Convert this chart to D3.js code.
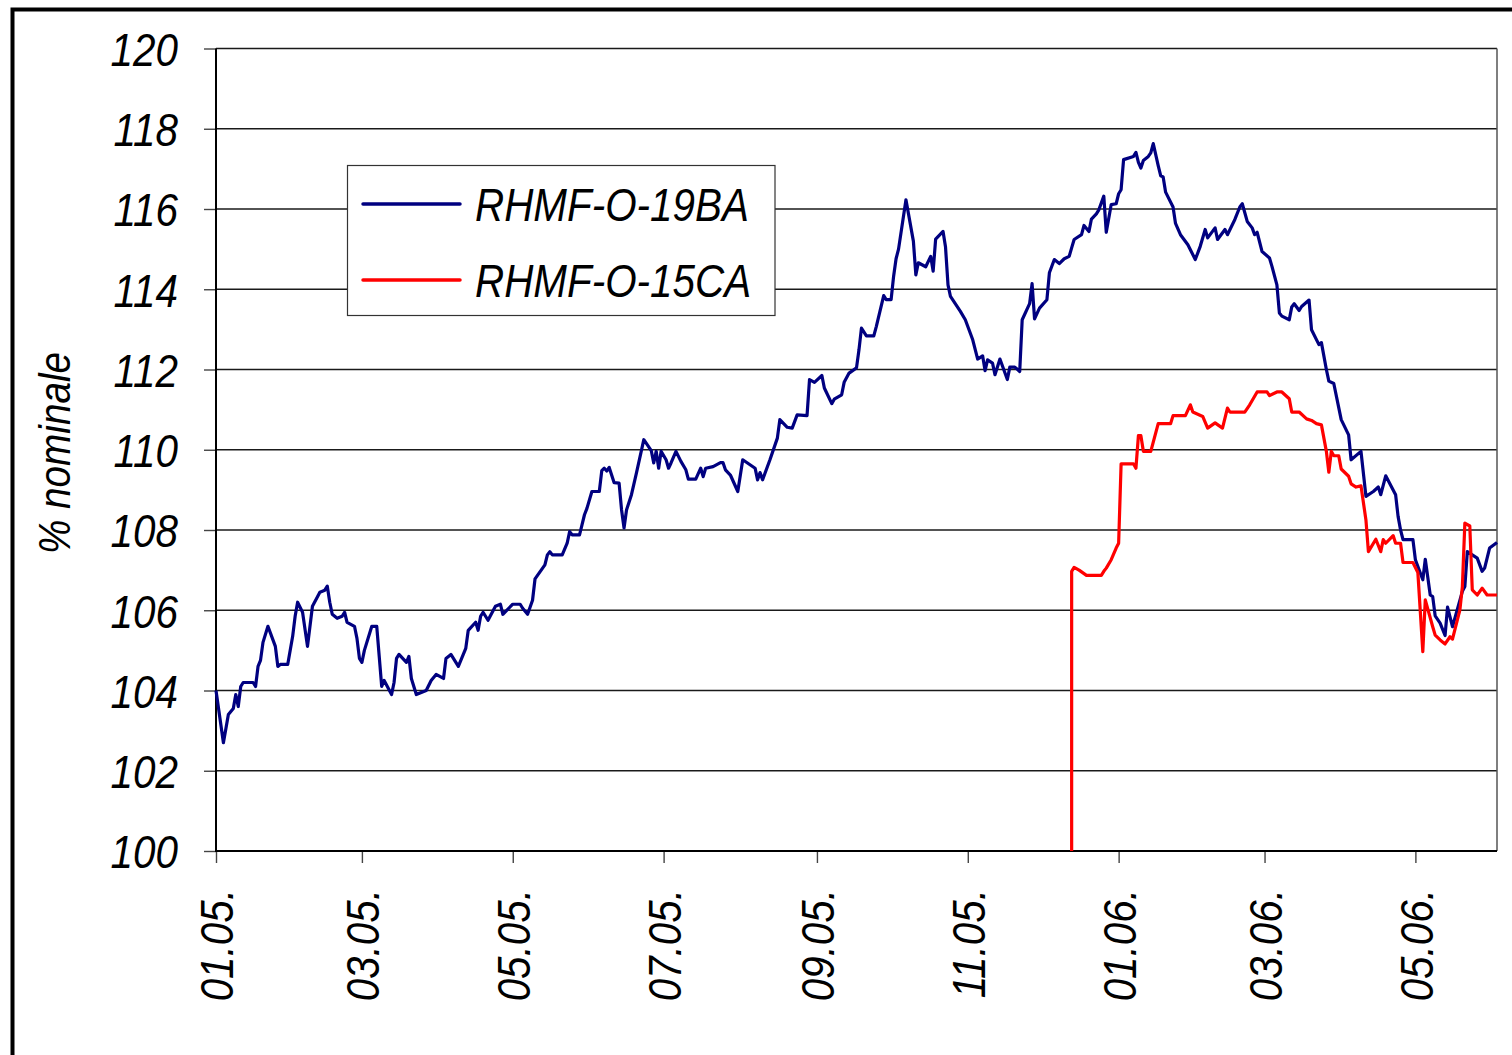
<!DOCTYPE html>
<html><head><meta charset="utf-8">
<script src="https://cdn.jsdelivr.net/npm/d3@7"></script>
<style>body{margin:0;background:#fff}svg{display:block}</style>
</head><body>
<svg id="c" width="1512" height="1055"></svg>
<script>
const seriesNames = ["RHMF-O-19BA", "RHMF-O-15CA"];
const seriesColors = ["#000080", "#ff0000"];
const yTicks = [100, 102, 104, 106, 108, 110, 112, 114, 116, 118, 120];
const xTickDates = ["2005-01-01","2005-03-01","2005-05-01","2005-07-01","2005-09-01","2005-11-01","2006-01-01","2006-03-01","2006-05-01"];
const xDomain = ["2005-01-01", "2006-06-03"];
const yTitle = "% nominale";

const blueDates = [
"2005-01-01","2005-01-04","2005-01-06","2005-01-08","2005-01-09","2005-01-10","2005-01-11","2005-01-12","2005-01-16","2005-01-17",
"2005-01-18","2005-01-19","2005-01-20","2005-01-22","2005-01-25","2005-01-26","2005-01-27","2005-01-30","2005-02-01","2005-02-02",
"2005-02-03","2005-02-05","2005-02-07","2005-02-09","2005-02-12","2005-02-14","2005-02-15","2005-02-16","2005-02-17","2005-02-19",
"2005-02-21","2005-02-22","2005-02-23","2005-02-26","2005-02-27","2005-02-28","2005-03-01","2005-03-02","2005-03-05","2005-03-07",
"2005-03-08","2005-03-09","2005-03-10","2005-03-13","2005-03-14","2005-03-15","2005-03-16","2005-03-19","2005-03-20","2005-03-21",
"2005-03-23","2005-03-27","2005-03-29","2005-03-31","2005-04-03","2005-04-04","2005-04-06","2005-04-09","2005-04-12","2005-04-13",
"2005-04-16","2005-04-17","2005-04-18","2005-04-19","2005-04-21","2005-04-24","2005-04-26","2005-04-27","2005-05-01","2005-05-04",
"2005-05-05","2005-05-07","2005-05-09","2005-05-10","2005-05-14","2005-05-15","2005-05-16","2005-05-17","2005-05-21","2005-05-23",
"2005-05-24","2005-05-25","2005-05-28","2005-05-29","2005-05-30","2005-05-31","2005-06-02","2005-06-05","2005-06-06","2005-06-07",
"2005-06-08","2005-06-09","2005-06-11","2005-06-13","2005-06-14","2005-06-15","2005-06-16","2005-06-18","2005-06-20","2005-06-23",
"2005-06-26","2005-06-27","2005-06-28","2005-06-29","2005-06-30","2005-07-02","2005-07-03","2005-07-04","2005-07-06","2005-07-08",
"2005-07-10","2005-07-11","2005-07-14","2005-07-16","2005-07-17","2005-07-18","2005-07-21","2005-07-24","2005-07-25","2005-07-26",
"2005-07-28","2005-07-31","2005-08-02","2005-08-07","2005-08-08","2005-08-09","2005-08-10","2005-08-13","2005-08-16","2005-08-17",
"2005-08-20","2005-08-22","2005-08-24","2005-08-28","2005-08-29","2005-08-31","2005-09-03","2005-09-04","2005-09-07","2005-09-08",
"2005-09-11","2005-09-12","2005-09-14","2005-09-17","2005-09-18","2005-09-19","2005-09-21","2005-09-24","2005-09-25","2005-09-28",
"2005-09-29","2005-10-01","2005-10-02","2005-10-03","2005-10-04","2005-10-07","2005-10-10","2005-10-11","2005-10-12","2005-10-15",
"2005-10-17","2005-10-18","2005-10-19","2005-10-22","2005-10-23","2005-10-24","2005-10-25","2005-10-29","2005-10-31","2005-11-03",
"2005-11-05","2005-11-07","2005-11-08","2005-11-09","2005-11-11","2005-11-12","2005-11-14","2005-11-17","2005-11-18","2005-11-20",
"2005-11-22","2005-11-23","2005-11-26","2005-11-27","2005-11-28","2005-11-30","2005-12-03","2005-12-04","2005-12-06","2005-12-08",
"2005-12-10","2005-12-12","2005-12-13","2005-12-14","2005-12-17","2005-12-18","2005-12-20","2005-12-21","2005-12-23","2005-12-24",
"2005-12-26","2005-12-27","2005-12-29","2005-12-31","2006-01-01","2006-01-02","2006-01-03","2006-01-07","2006-01-08","2006-01-09",
"2006-01-10","2006-01-11","2006-01-13","2006-01-14","2006-01-15","2006-01-17","2006-01-18","2006-01-19","2006-01-20","2006-01-23",
"2006-01-24","2006-01-26","2006-01-29","2006-02-01","2006-02-03","2006-02-05","2006-02-06","2006-02-09","2006-02-10","2006-02-13",
"2006-02-14","2006-02-17","2006-02-19","2006-02-20","2006-02-22","2006-02-24","2006-02-25","2006-02-26","2006-02-28","2006-03-03",
"2006-03-04","2006-03-06","2006-03-07","2006-03-08","2006-03-11","2006-03-12","2006-03-13","2006-03-15","2006-03-16","2006-03-19",
"2006-03-20","2006-03-23","2006-03-24","2006-03-26","2006-03-27","2006-03-29","2006-04-01","2006-04-04","2006-04-05","2006-04-09",
"2006-04-11","2006-04-14","2006-04-16","2006-04-17","2006-04-19","2006-04-23","2006-04-24","2006-04-25","2006-04-26","2006-04-30",
"2006-05-01","2006-05-04","2006-05-05","2006-05-07","2006-05-08","2006-05-09","2006-05-11","2006-05-13","2006-05-14","2006-05-16",
"2006-05-20","2006-05-21","2006-05-22","2006-05-26","2006-05-28","2006-05-29","2006-05-31","2006-06-03"];
const blueValues = [
104.0,102.7,103.4,103.55,103.9,103.6,104.1,104.2,104.2,104.1,
104.6,104.75,105.2,105.6,105.1,104.6,104.65,104.65,105.35,105.85,
106.2,105.95,105.1,106.1,106.45,106.5,106.6,106.2,105.9,105.8,
105.85,105.95,105.7,105.6,105.3,104.8,104.7,105.0,105.6,105.6,
104.85,104.1,104.25,103.9,104.2,104.8,104.9,104.7,104.85,104.3,
103.9,104.0,104.25,104.4,104.3,104.8,104.9,104.6,105.05,105.5,
105.7,105.5,105.85,105.95,105.75,106.1,106.15,105.9,106.15,106.15,
106.05,105.9,106.25,106.78,107.13,107.38,107.46,107.38,107.38,107.67,
107.96,107.88,107.88,108.13,108.38,108.54,108.96,108.96,109.48,109.54,
109.47,109.56,109.18,109.17,108.5,108.05,108.5,108.88,109.42,110.25,
109.98,109.67,109.96,109.54,109.96,109.75,109.54,109.67,109.96,109.71,
109.5,109.27,109.27,109.54,109.33,109.54,109.58,109.68,109.68,109.5,
109.37,108.96,109.75,109.54,109.25,109.43,109.25,109.75,110.29,110.75,
110.56,110.54,110.87,110.85,111.75,111.68,111.85,111.54,111.15,111.26,
111.37,111.68,111.91,112.04,112.49,113.03,112.84,112.84,113.07,113.84,
113.74,113.74,114.32,114.76,115.0,116.23,115.2,114.36,114.66,114.56,
114.82,114.45,115.25,115.44,115.05,114.11,113.82,113.45,113.24,112.74,
112.26,112.34,111.97,112.24,112.16,111.87,112.26,111.75,112.06,112.06,
111.95,113.24,113.64,114.14,113.26,113.53,113.74,114.41,114.74,114.64,
114.76,114.82,115.03,115.24,115.36,115.59,115.44,115.75,115.88,115.98,
116.32,115.42,116.11,116.13,116.38,116.48,117.23,117.31,117.41,117.16,
117.02,117.21,117.31,117.4,117.63,117.08,116.83,116.8,116.42,116.05,
115.64,115.36,115.11,114.74,115.07,115.49,115.28,115.53,115.24,115.49,
115.36,115.74,116.05,116.13,115.69,115.53,115.36,115.42,114.94,114.78,
114.57,114.11,113.41,113.33,113.24,113.56,113.64,113.47,113.57,113.73,
112.99,112.62,112.67,112.0,111.71,111.65,110.75,110.37,109.75,109.96,
108.84,108.96,109.07,108.88,109.35,108.88,108.34,108.0,107.76,107.76,
107.26,106.76,107.27,106.38,106.34,105.86,105.68,105.37,106.08,105.59,
106.47,106.59,107.46,107.3,106.97,107.05,107.55,107.69];

const redDates = [
"2005-12-13","2005-12-13","2005-12-14","2005-12-16","2005-12-19","2005-12-25","2005-12-26","2005-12-27","2005-12-29","2005-12-31",
"2006-01-01","2006-01-02","2006-01-07","2006-01-08","2006-01-09","2006-01-10","2006-01-11","2006-01-14","2006-01-17","2006-01-22",
"2006-01-23","2006-01-28","2006-01-30","2006-01-31","2006-02-04","2006-02-06","2006-02-09","2006-02-12","2006-02-14","2006-02-15",
"2006-02-21","2006-02-23","2006-02-26","2006-03-02","2006-03-03","2006-03-06","2006-03-08","2006-03-11","2006-03-12","2006-03-15",
"2006-03-18","2006-03-20","2006-03-22","2006-03-24","2006-03-25","2006-03-26","2006-03-27","2006-03-28","2006-03-29","2006-03-31",
"2006-04-01","2006-04-04","2006-04-05","2006-04-07","2006-04-09","2006-04-11","2006-04-12","2006-04-15","2006-04-17","2006-04-18",
"2006-04-19","2006-04-22","2006-04-23","2006-04-25","2006-04-26","2006-04-30","2006-05-02","2006-05-04","2006-05-05","2006-05-08",
"2006-05-09","2006-05-11","2006-05-13","2006-05-15","2006-05-16","2006-05-19","2006-05-20","2006-05-21","2006-05-23","2006-05-24",
"2006-05-26","2006-05-28","2006-05-30","2006-06-03"];
const redValues = [
100,106.97,107.07,107.0,106.87,106.87,106.97,107.05,107.26,107.55,
107.67,109.65,109.65,109.54,110.35,110.35,109.96,109.96,110.65,110.65,
110.85,110.85,111.12,110.94,110.83,110.54,110.67,110.54,111.04,110.94,
110.94,111.12,111.44,111.44,111.35,111.44,111.44,111.27,110.94,110.94,
110.77,110.73,110.65,110.62,110.29,109.96,109.44,109.96,109.85,109.85,
109.52,109.34,109.15,109.07,109.1,108.25,107.46,107.77,107.46,107.76,
107.67,107.86,107.67,107.67,107.19,107.19,106.94,104.97,106.26,105.59,
105.38,105.26,105.16,105.34,105.28,106.01,106.59,108.17,108.1,106.51,
106.38,106.55,106.38,106.38];

const parse = d3.timeParse("%Y-%m-%d");
const M = {left: 216, right: 1497, top: 48.5, bottom: 851};
const FONT = "'Liberation Sans', Arial, sans-serif";
const SX = 0.86;

const x = d3.scaleTime().domain(xDomain.map(parse)).range([M.left, M.right]);
const y = d3.scaleLinear().domain([yTicks[0], yTicks[yTicks.length - 1]]).range([M.bottom, M.top]);

const svg = d3.select("#c");

// outer frame
svg.append("rect").attr("x", 12.5).attr("y", 9.5).attr("width", 1600).attr("height", 1200)
  .attr("fill", "none").attr("stroke", "#000").attr("stroke-width", 4);

// gridlines
svg.append("g").selectAll("line").data(yTicks.slice(1)).join("line")
  .attr("x1", M.left).attr("x2", M.right)
  .attr("y1", d => y(d)).attr("y2", d => y(d))
  .attr("stroke", "#1a1a1a").attr("stroke-width", 1.4);

// right border of plot
svg.append("line").attr("x1", M.right).attr("x2", M.right).attr("y1", M.top).attr("y2", M.bottom)
  .attr("stroke", "#555").attr("stroke-width", 1.5);

// Y axis
const yAxis = svg.append("g").attr("transform", `translate(${M.left},0)`)
  .call(d3.axisLeft(y).tickValues(yTicks).tickSize(12).tickFormat(d3.format("d")));
yAxis.select(".domain").remove();
yAxis.selectAll(".tick line").attr("stroke", "#444").attr("stroke-width", 1.4);
yAxis.selectAll(".tick text")
  .attr("x", null).attr("dy", "0.36em")
  .attr("transform", `translate(-38,0) scale(${SX},1)`)
  .attr("text-anchor", "end")
  .style("font-family", FONT).style("font-style", "italic").style("font-size", "47px").attr("fill", "#000");

// X axis
const xAxis = svg.append("g").attr("transform", `translate(0,${M.bottom})`)
  .call(d3.axisBottom(x).tickValues(xTickDates.map(parse)).tickSize(12).tickFormat(d3.timeFormat("%m.%y.")));
xAxis.select(".domain").remove();
xAxis.selectAll(".tick line").attr("stroke", "#444").attr("stroke-width", 1.4);
xAxis.selectAll(".tick text")
  .attr("y", null).attr("dy", "0.36em")
  .attr("transform", `translate(0,38) rotate(-90) scale(${SX},1)`)
  .attr("text-anchor", "end")
  .style("font-family", FONT).style("font-style", "italic").style("font-size", "47px").attr("fill", "#000");

// axis lines
svg.append("line").attr("x1", M.left).attr("x2", M.left).attr("y1", M.top).attr("y2", M.bottom + 1)
  .attr("stroke", "#000").attr("stroke-width", 2);
svg.append("line").attr("x1", M.left).attr("x2", M.right).attr("y1", M.bottom).attr("y2", M.bottom)
  .attr("stroke", "#000").attr("stroke-width", 2);

// Y title
svg.append("text").text(yTitle)
  .attr("transform", `translate(70,453) rotate(-90) scale(${SX},1)`)
  .attr("text-anchor", "middle")
  .style("font-family", FONT).style("font-style", "italic").style("font-size", "45px");

// series
const series = [
  {name: seriesNames[0], color: seriesColors[0], data: blueDates.map((d, i) => ({date: parse(d), value: blueValues[i]}))},
  {name: seriesNames[1], color: seriesColors[1], data: redDates.map((d, i) => ({date: parse(d), value: redValues[i]}))}
];
const line = d3.line().x(d => x(d.date)).y(d => y(d.value));
svg.append("g").selectAll("path").data(series).join("path")
  .attr("d", d => line(d.data))
  .attr("fill", "none").attr("stroke", d => d.color)
  .attr("stroke-width", 3.2).attr("stroke-linejoin", "round");

// legend
const lg = svg.append("g");
lg.append("rect").attr("x", 347.5).attr("y", 165.5).attr("width", 427.5).attr("height", 150)
  .attr("fill", "#fff").attr("stroke", "#333").attr("stroke-width", 1.2);
const rowY = [204, 280];
series.forEach((s, i) => {
  lg.append("line").attr("x1", 363).attr("x2", 460).attr("y1", rowY[i]).attr("y2", rowY[i])
    .attr("stroke", s.color).attr("stroke-width", 3.5).attr("stroke-linecap", "round");
  lg.append("text").text(s.name)
    .attr("transform", `translate(475,${rowY[i]}) scale(${SX},1)`)
    .attr("dy", "0.36em")
    .style("font-family", FONT).style("font-style", "italic").style("font-size", "47px");
});
</script>
</body></html>
